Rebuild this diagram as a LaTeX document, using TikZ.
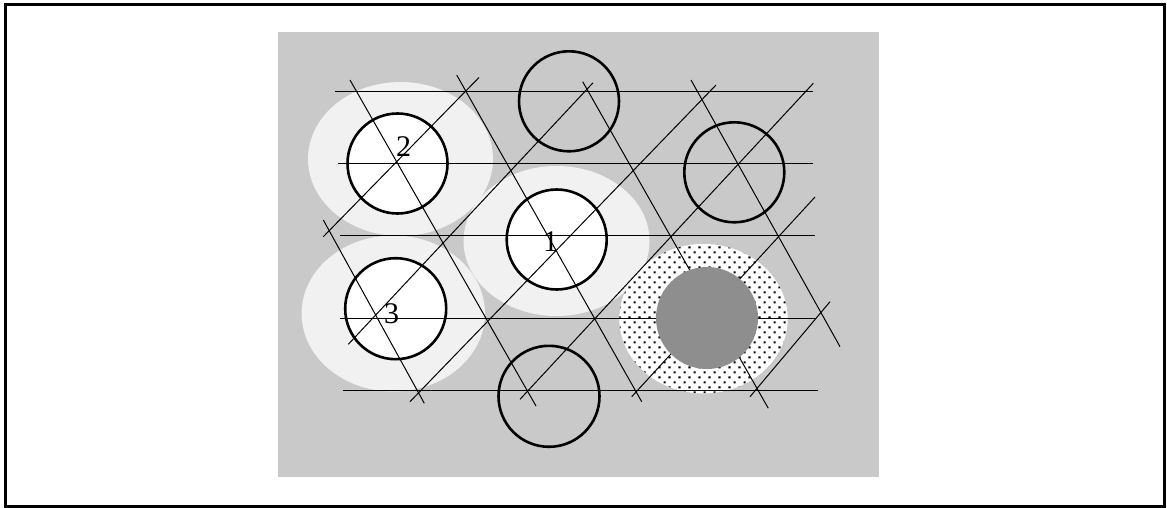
\documentclass[tikz,border=0pt]{standalone}
\usepackage{fontspec}
\setmainfont{Liberation Serif}
\usetikzlibrary{patterns}
\definecolor{backGray}{RGB}{201,201,201}
\definecolor{haloGray}{RGB}{241,241,241}
\definecolor{coreGray}{RGB}{142,142,142}
\pgfdeclarepatternformonly{sparsedots}{\pgfpointorigin}{\pgfpoint{5.2pt}{5.2pt}}{\pgfpoint{5.2pt}{5.2pt}}{%
  \pgfpathrectangle{\pgfpoint{0.3pt}{0.3pt}}{\pgfpoint{1.1pt}{1.1pt}}%
  \pgfpathrectangle{\pgfpoint{2.9pt}{2.9pt}}{\pgfpoint{1.1pt}{1.1pt}}%
  \pgfusepath{fill}}
\begin{document}
\begin{tikzpicture}[x=0.5pt, y=-0.5pt,
  latline/.style={line width=0.5pt, black},
  ring/.style={line width=1.3pt, black},
  num/.style={inner sep=0pt, font=\fontsize{15}{17}\selectfont}
]
  \useasboundingbox (0,0) rectangle (1167,508);
  \draw[line width=1.5pt] (5.5,4.8) rectangle (1164,506.8);
  \fill[backGray] (278,32) rectangle (879,477);

  % halos round the numbered sites
  \fill[haloGray] (400.5,159) ellipse [x radius=92.5, y radius=77];
  \fill[haloGray] (393.3,313.5) ellipse [x radius=91.7, y radius=78];
  \fill[haloGray] (556.5,241) ellipse [x radius=93, y radius=75];

  % dotted ring
  \fill[white] (703.5,318.7) ellipse [x radius=84.2, y radius=74.7];
  \fill[pattern=sparsedots] (703.5,318.7) ellipse [x radius=84.2, y radius=74.7];

  % white sites
  \fill[white] (397.5,163.5) circle [radius=50];
  \fill[white] (395.7,308.7) circle [radius=50.5];
  \fill[white] (556.7,239.5) circle [radius=50];

  % lattice lines
  \foreach \y/\a/\b in {92/335/813, 163.5/338/813, 235/340/815, 318.3/340/816, 390/343/818}
    \draw[latline] (\a,\y) -- (\b,\y);
  \foreach \p/\q in {{(323.3,220)}/{(424.3,403.3)}, {(350,80)}/{(536,406)},
                     {(456.7,75)}/{(641.7,401.7)}, {(582.7,81.7)}/{(768.3,408.3)},
                     {(691,80)}/{(840,346.7)}}
    \draw[latline] \p -- \q;
  \foreach \p/\q in {{(323.3,236.7)}/{(479,77.5)}, {(348.3,344.3)}/{(593,82.8)},
                     {(410,401.7)}/{(716,85)}, {(520,399.3)}/{(813.3,83.3)},
                     {(631.7,396.7)}/{(815,197)}, {(750,396.7)}/{(830,301.7)}}
    \draw[latline] \p -- \q;

  % core of the ring
  \fill[coreGray] (707,318) circle [radius=51];

  % site outlines
  \draw[ring] (397.5,163.5) circle [radius=50];
  \draw[ring] (395.7,308.7) circle [radius=50.5];
  \draw[ring] (556.7,239.5) circle [radius=50];
  \draw[ring] (569,101.3) circle [radius=50];
  \draw[ring] (734.3,172.3) circle [radius=50];
  \draw[ring] (549,396.3) circle [radius=50.5];

  \node[num] (l2) at (403.7,146.3) {2};
  \node[num] (l3) at (391.7,313.3) {3};
  \node[num] (l1) at (550.5,242) {1};
\end{tikzpicture}
\end{document}
